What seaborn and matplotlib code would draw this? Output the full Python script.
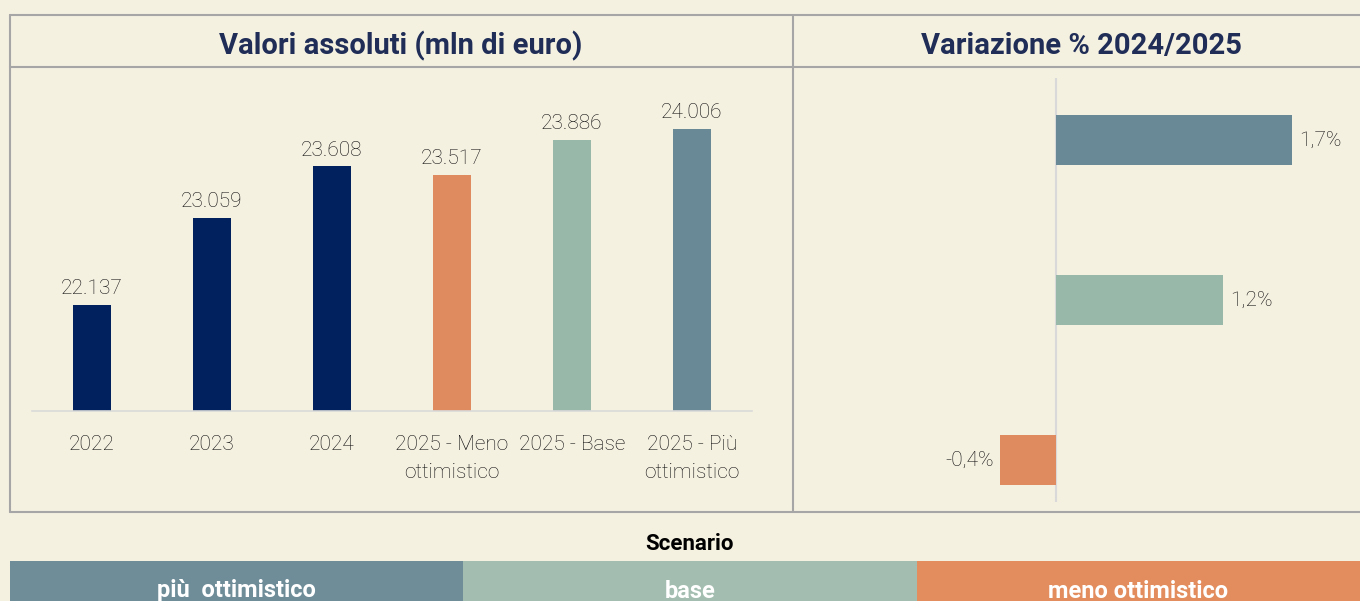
import matplotlib
matplotlib.use("Agg")
import matplotlib.pyplot as plt
from matplotlib.patches import Rectangle
from matplotlib.lines import Line2D
import seaborn as sns
import pandas as pd

# data
categories = ["2022", "2023", "2024", "2025 - Meno\nottimistico", "2025 - Base", "2025 - Più\nottimistico"]
values = [22137, 23059, 23608, 23517, 23886, 24006]
scenarios = ["più ottimistico", "base", "meno ottimistico"]
variation = [1.7, 1.2, -0.4]
legend_labels = ["più  ottimistico", "base", "meno ottimistico"]

NAVY = "#00215E"
ORANGE = "#E08A60"
GREEN = "#98B8AA"
BLUE = "#688995"
BG = "#F5F1E1"
TITLE = "#1F2D57"
BORDER = "#A6A6A6"
TXT = "#0D0D0D"

sns.set_theme(style="white")
plt.rcParams["font.family"] = ["Roboto", "DejaVu Sans"]

W, H = 1360, 601
fig = plt.figure(figsize=(W / 100, H / 100), dpi=100, facecolor=BG)


def box(x0, y0, x1, y1):
    # pixel coords (top-left origin) -> figure fraction
    return [x0 / W, 1 - y1 / H, (x1 - x0) / W, (y1 - y0) / H]


def px(x, y):
    return x / W, 1 - y / H


# frame lines
for (x0, y0, x1, y1) in [(10, 15, 1360, 15), (10, 67, 1360, 67), (10, 512, 1360, 512),
                         (10, 15, 10, 512), (793, 15, 793, 512)]:
    a, b = px(x0, y0)
    c, d = px(x1, y1)
    fig.add_artist(Line2D([a, c], [b, d], color=BORDER, lw=1.5))

fig.text(*px(401, 46), "Valori assoluti (mln di euro)", ha="center", va="center",
         fontsize=21, fontweight="bold", color=TITLE)
fig.text(*px(1081, 46), "Variazione % 2024/2025", ha="center", va="center",
         fontsize=21, fontweight="bold", color=TITLE)

# left panel: absolute values
df = pd.DataFrame({"cat": categories, "val": values})
ax1 = fig.add_axes(box(32, 80, 752, 411))
ax1.set_facecolor("none")
sns.barplot(data=df, x="cat", y="val", hue="cat", legend=False,
            palette=[NAVY, NAVY, NAVY, ORANGE, GREEN, BLUE], width=0.32,
            saturation=1, linewidth=0, ax=ax1)
ax1.set_ylim(21014, 21014 + 331 / 0.0944)
ax1.set_xlim(-0.5, 5.5)
for i, v in enumerate(values):
    ax1.text(i, v + 70, f"{v:,}".replace(",", "."), ha="center", va="bottom",
             fontsize=15, fontweight="light", color=TXT)
ax1.set_yticks([])
ax1.set_xlabel("")
ax1.set_ylabel("")
ax1.tick_params(axis="x", length=0, pad=17, labelsize=15, labelcolor=TXT)
for t in ax1.get_xticklabels():
    t.set_fontweight("light")
    t.set_linespacing(1.6)
    t.set_va("top")
for s in ["left", "right", "top"]:
    ax1.spines[s].set_visible(False)
ax1.spines["bottom"].set_color("#D9D9D9")
ax1.spines["bottom"].set_linewidth(1.2)

# right panel: % change
dv = pd.DataFrame({"scen": scenarios, "var": variation})
ax2 = fig.add_axes(box(800, 78, 1360, 502))
ax2.set_facecolor("none")
sns.barplot(data=dv, y="scen", x="var", hue="scen", legend=False, orient="h",
            palette=[BLUE, GREEN, ORANGE], width=0.31, saturation=1,
            linewidth=0, ax=ax2)
ax2.set_xlim(-256 / 139, 304 / 139)
ax2.set_ylim(2.2625, -0.3875)
ax2.axvline(0, color="#D9D9D9", lw=1.5, zorder=0)
for i, v in enumerate(variation):
    lab = f"{v:.1f}%".replace(".", ",")
    off = 0.05 if v >= 0 else -0.05
    ax2.text(v + off, i, lab, ha="left" if v >= 0 else "right", va="center",
             fontsize=15, fontweight="light", color=TXT)
ax2.set_xticks([])
ax2.set_yticks([])
ax2.set_xlabel("")
ax2.set_ylabel("")
for s in ax2.spines.values():
    s.set_visible(False)

# scenario legend band
fig.text(*px(690, 544), "Scenario", ha="center", va="center", fontsize=16,
         fontweight="bold", color="black")
band_colors = ["#6E8D99", "#A3BEB0", "#E38C5D"]
edges = [10, 463, 917, 1360]
for k, lab in enumerate(legend_labels):
    x0, x1 = edges[k], edges[k + 1]
    fig.add_artist(Rectangle(px(x0, 601), (x1 - x0) / W, 40 / H,
                             transform=fig.transFigure, color=band_colors[k], lw=0))
    fig.text(*px((x0 + x1) / 2, 591), lab, ha="center", va="center", fontsize=17,
             fontweight="bold", color="white")

fig.savefig("out.png", dpi=100, facecolor=BG)
